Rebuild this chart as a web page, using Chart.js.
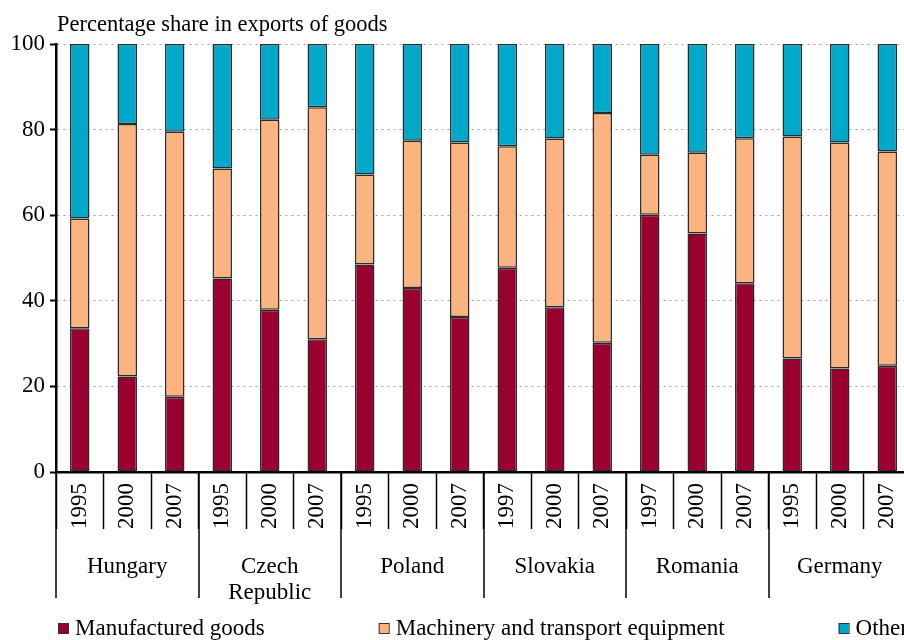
<!DOCTYPE html>
<html>
<head>
<meta charset="utf-8">
<script src="https://cdn.jsdelivr.net/npm/chart.js@4.4.1/dist/chart.umd.min.js"></script>
<style>
  body { margin: 0; background: #fff; }
  #wrap { width: 904px; height: 640px; overflow: hidden; position: relative; }
  canvas { display: block; }
</style>
</head>
<body>
<div id="wrap"><canvas id="chart" width="920" height="640"></canvas></div>
<script>
// year of each bar
const years = ['1995', '2000', '2007', '1995', '2000', '2007', '1995', '2000', '2007',
               '1997', '2000', '2007', '1997', '2000', '2007', '1995', '2000', '2007'];
// country groups, three bars each
const countries = ['Hungary', ['Czech', 'Republic'], 'Poland', 'Slovakia', 'Romania', 'Germany'];
const groupSize = 3;

const manufactured = [33.6, 22.3, 17.6, 45.2, 37.9, 31.0, 48.5, 43.0, 36.2,
                      47.7, 38.5, 30.2, 60.1, 55.7, 44.1, 26.5, 24.2, 24.8];
const machinery = [25.6, 59.0, 61.9, 25.7, 44.4, 54.2, 21.0, 34.4, 40.8,
                   28.4, 39.4, 53.7, 14.0, 18.9, 33.9, 51.9, 52.8, 50.1];
const other = [40.8, 18.7, 20.5, 29.1, 17.7, 14.8, 30.5, 22.6, 23.0,
               23.9, 22.1, 16.1, 25.9, 25.4, 22.0, 21.6, 23.0, 25.1];

const yTicks = [0, 20, 40, 60, 80, 100];
const title = 'Percentage share in exports of goods';

const FONT = '"Liberation Serif", "DejaVu Serif", serif';

// title, country groups and legend drawn by hand
const extras = {
    id: 'extras',
    afterDraw(chart) {
        const ctx = chart.ctx;
        const x = chart.scales.x;
        ctx.save();
        ctx.fillStyle = '#000';
        ctx.font = '22.5px ' + FONT;
        ctx.textAlign = 'left';
        ctx.textBaseline = 'alphabetic';
        ctx.fillText(title, chart.chartArea.left + 1, 31);

        // group separators and names
        ctx.strokeStyle = '#000';
        ctx.lineWidth = 1.5;
        ctx.font = '23px ' + FONT;
        ctx.textAlign = 'center';
        for (let g = 0; g <= countries.length; g++) {
            const px = Math.round(x.getPixelForValue(g * groupSize - 0.5));
            ctx.beginPath();
            ctx.moveTo(px, x.top);
            ctx.lineTo(px, 598);
            ctx.stroke();
            if (g < countries.length) {
                const cx = x.getPixelForValue(g * groupSize + (groupSize - 1) / 2);
                const lines = [].concat(countries[g]);
                lines.forEach((t, i) => ctx.fillText(t, cx, 573 + i * 26));
            }
        }

        // legend
        let lx = 58;
        ctx.textAlign = 'left';
        chart.data.datasets.forEach(ds => {
            ctx.fillStyle = ds.backgroundColor;
            ctx.fillRect(lx, 623, 10, 10);
            ctx.lineWidth = 1;
            ctx.strokeStyle = '#333';
            ctx.strokeRect(lx + 0.5, 623.5, 10, 10);
            ctx.fillStyle = '#000';
            ctx.fillText(ds.label, lx + 17, 635);
            lx += 17 + ctx.measureText(ds.label).width + 114;
        });
        ctx.restore();
    }
};

const barStyle = {
    borderColor: '#2b2b2b',
    borderWidth: 1.5,
    borderSkipped: false,
    barPercentage: 0.41,
    categoryPercentage: 1
};

new Chart(document.getElementById('chart'), {
    type: 'bar',
    data: {
        labels: years,
        datasets: [
            { label: 'Manufactured goods', data: manufactured, backgroundColor: '#99002F', ...barStyle },
            { label: 'Machinery and transport equipment', data: machinery, backgroundColor: '#FBB37F', ...barStyle },
            { label: 'Other', data: other, backgroundColor: '#00A8C9', ...barStyle }
        ]
    },
    options: {
        responsive: false,
        animation: false,
        devicePixelRatio: 1,
        layout: { padding: { top: 44, right: 9, bottom: 0, left: 0 } },
        plugins: {
            legend: { display: false },
            title: { display: false },
            tooltip: { enabled: false }
        },
        scales: {
            x: {
                stacked: true,
                ticks: {
                    minRotation: 90,
                    maxRotation: 90,
                    autoSkip: false,
                    padding: -46,
                    color: '#000',
                    font: { family: FONT, size: 23 }
                },
                grid: {
                    drawOnChartArea: false,
                    tickLength: 57,
                    tickColor: '#000',
                    tickWidth: 1.5
                },
                border: { color: '#000', width: 2.5 },
                afterFit: s => { s.height = 168; }
            },
            y: {
                stacked: true,
                min: 0,
                max: 100,
                afterBuildTicks: s => { s.ticks = yTicks.map(v => ({ value: v })); },
                ticks: {
                    padding: 5,
                    color: '#000',
                    font: { family: FONT, size: 23 }
                },
                grid: {
                    color: '#9a9a9a',
                    lineWidth: 1,
                    tickLength: 6,
                    tickColor: '#000',
                    tickWidth: 2,
                    tickBorderDash: []
                },
                border: { color: '#000', width: 2.5, dash: [2, 4] },
                afterFit: s => { s.width = 56; }
            }
        }
    },
    plugins: [extras]
});
</script>
</body>
</html>
